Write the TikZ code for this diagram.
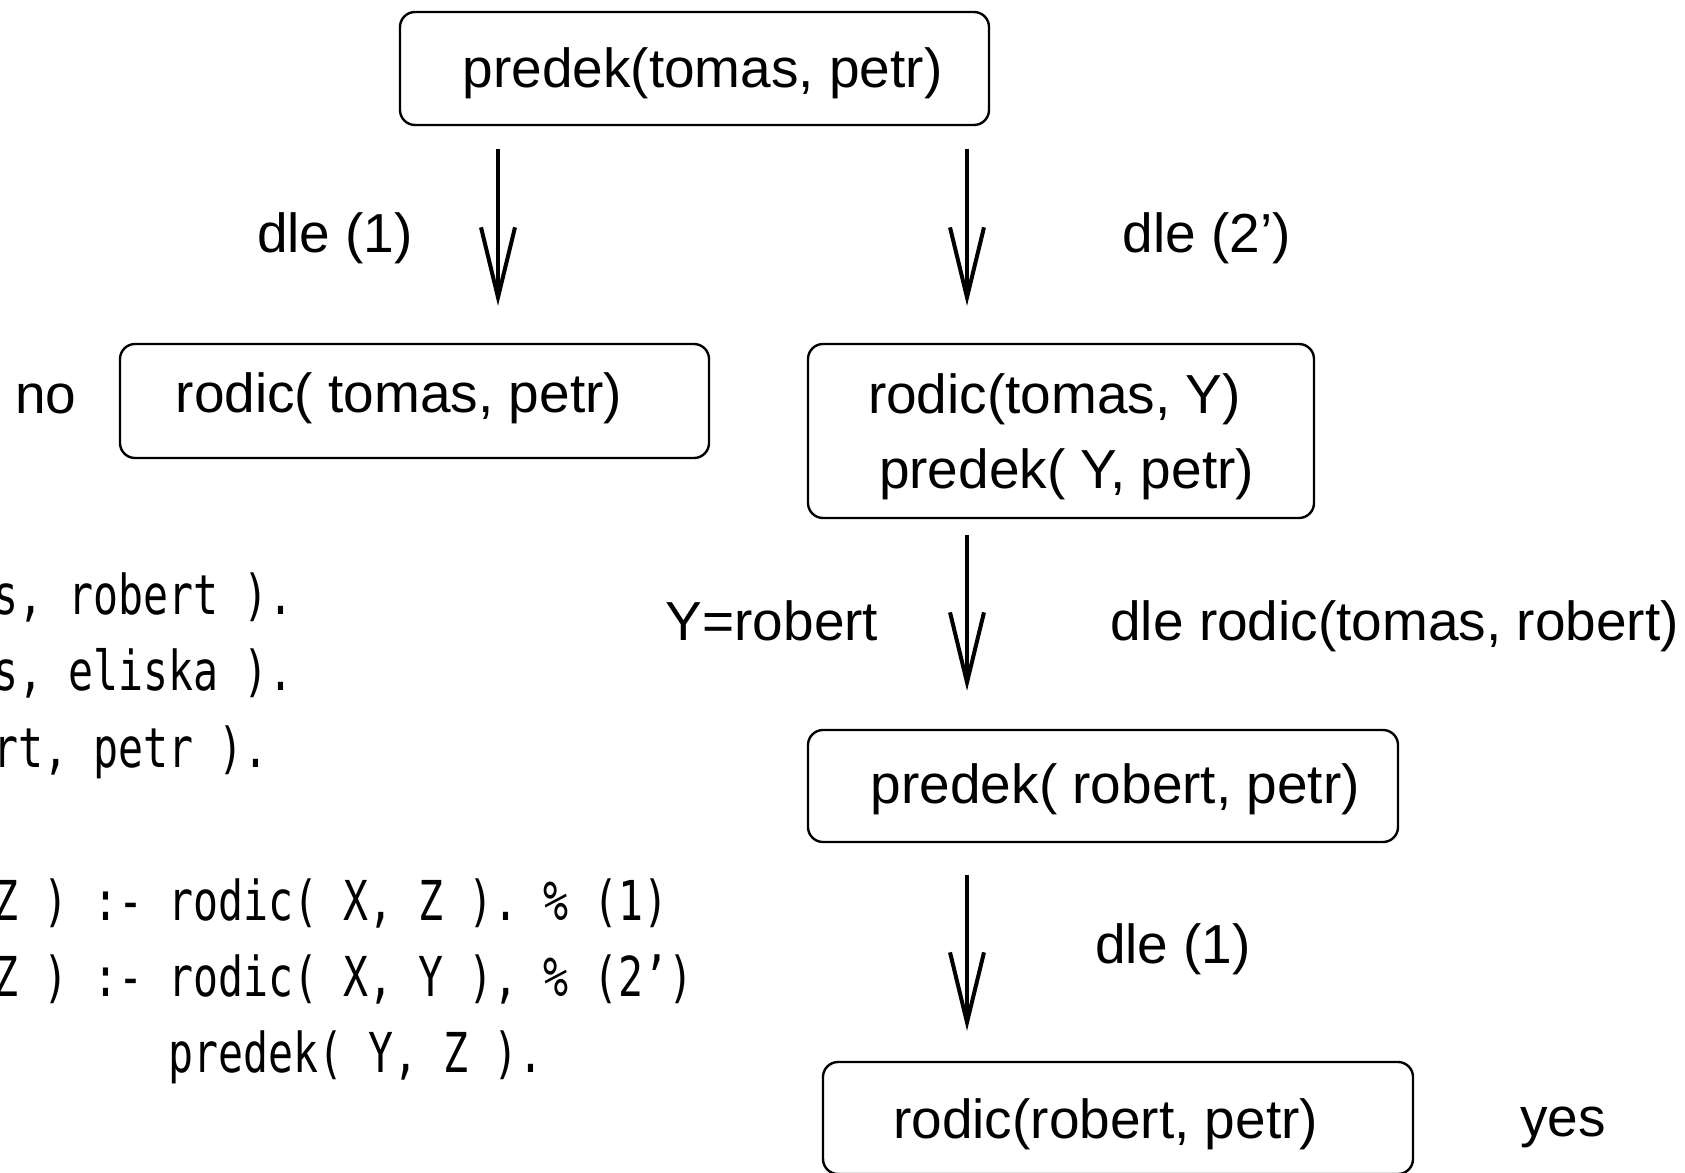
\documentclass[tikz,border=0pt]{standalone}
\usepackage{fontspec}
\setmainfont{Liberation Sans}
\newfontfamily\codefont[FakeStretch=0.755]{DejaVu Sans Mono}
\usepackage{tikz}
\usetikzlibrary{arrows.meta}

\tikzset{
  goal/.style={draw, line width=1.2pt, rounded corners=7.5pt, inner sep=0pt},
  flow/.style={line width=2pt, -{Straight Barb[length=35pt,width=17pt]}},
  txt/.style={inner sep=0pt},
  prog/.style={inner sep=0pt, anchor=base west, font=\codefont\fontsize{27.5}{38.2}\selectfont}
}

\begin{document}
\begin{tikzpicture}[x=0.5pt,y=-0.5pt,font=\fontsize{27.5}{37.5}\selectfont]
        %\draw[gray] (0,0) grid[step=100] (1685,1172);
        \useasboundingbox (0,0) rectangle (1685,1172);
        \clip (0,0) rectangle (1685,1172);

        \node[goal, minimum width=294.5pt, minimum height=56.5pt, text height=25.1pt, text depth=5.8pt] (top) at (694.5,68.5) {\hspace*{8pt}predek(tomas, petr)};
        \node[goal, minimum width=294.5pt, minimum height=57pt, text height=19.7pt, text depth=7.8pt] (fail) at (414.5,401) {\hspace*{-15.6pt}rodic( tomas, petr)};
        \node[goal, minimum width=253pt, minimum height=87pt, align=left] (pair) at (1061,431) {\rule{0pt}{25.7pt}rodic(tomas, Y)\\\hspace*{5.5pt}predek( Y, petr)};
        \node[goal, minimum width=295pt, minimum height=56pt, text height=22.9pt, text depth=5.8pt] (next) at (1103,786) {\hspace*{12.4pt}predek( robert, petr)};
        \node[goal, minimum width=295pt, minimum height=56pt, text height=26.1pt, text depth=5.8pt] (done) at (1118,1118) {\hspace*{-12.4pt}rodic(robert, petr)};

        \coordinate (lcol) at (498,0);
        \coordinate (rcol) at (967,0);
        \draw[flow, shorten <=11.5pt, shorten >=18.5pt] (top.south -| lcol) -- (fail.north -| lcol);
        \draw[flow, shorten <=11.5pt, shorten >=18.5pt] (top.south -| rcol) -- (pair.north -| rcol);
        \draw[flow, shorten <=8pt, shorten >=19pt] (pair.south -| rcol) -- (next.north -| rcol);
        \draw[flow, shorten <=16pt, shorten >=15pt] (next.south -| rcol) -- (done.north -| rcol);

        \node[txt] (r1) at (335,238) {dle (1)};
        \node[txt] (r2) at (1207,238) {dle (2’)};
        \node[txt] (nolbl) at (46,399) {no};
        \node[txt] (subst) at (772,621) {Y=robert};
        \node[txt, anchor=west] (r3) at (1110,626) {dle rodic(tomas, robert)};
        \node[txt] (r4) at (1173,949) {dle (1)};
        \node[txt] (yeslbl) at (1563,1127) {yes};

        % program
        \node[prog] (f1) at (-282,614) {rodic( tomas, robert ).};
        \node[prog] (f2) at (-282,690) {rodic( tomas, eliska ).};
        \node[prog] (f3) at (-282,767) {rodic( robert, petr ).};
        \node[prog] (c1) at (-282,920) {predek( X, Z ) :- rodic( X, Z ). \% (1)};
        \node[prog] (c2) at (-282,996) {predek( X, Z ) :- rodic( X, Y ), \% (2’)};
        \node[prog] (c3) at (-282,1072) {\phantom{predek( X, Z ) :- }predek( Y, Z ).};
    \end{tikzpicture}
\end{document}
